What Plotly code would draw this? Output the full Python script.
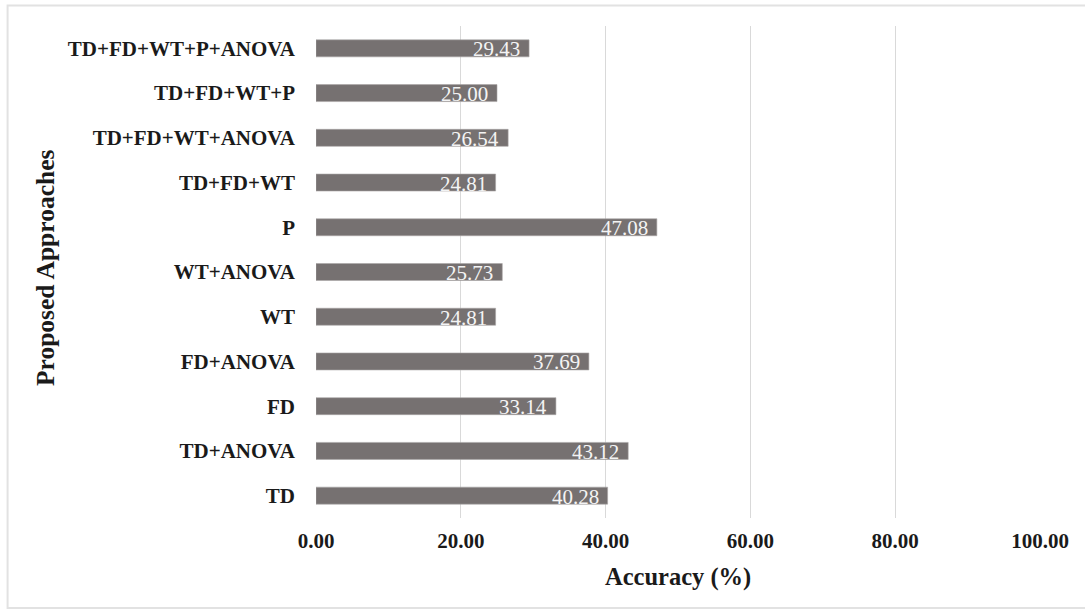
import plotly.graph_objects as go

approaches = ["TD", "TD+ANOVA", "FD", "FD+ANOVA", "WT", "WT+ANOVA", "P",
              "TD+FD+WT", "TD+FD+WT+ANOVA", "TD+FD+WT+P", "TD+FD+WT+P+ANOVA"]
accuracy = [40.28, 43.12, 33.14, 37.69, 24.81, 25.73, 47.08,
            24.81, 26.54, 25.00, 29.43]
x_ticks = [0, 20, 40, 60, 80, 100]
x_tick_text = ["0.00", "20.00", "40.00", "60.00", "80.00", "100.00"]

SERIF = "Liberation Serif, Times New Roman, serif"

fig = go.Figure(go.Bar(
    x=accuracy,
    y=approaches,
    orientation="h",
    width=0.38,
    marker=dict(color="#767171", line=dict(color="#a9a6a6", width=0.6)),
    hoverinfo="x+y",
))

# value labels placed just inside the end of each bar
value_labels = [
    dict(text=f"{v:.2f}", x=v, y=cat, xref="x", yref="y",
         xanchor="right", yanchor="middle", xshift=-7, yshift=-1,
         showarrow=False,
         font=dict(family=SERIF, size=21, color="#f4f4f4"))
    for cat, v in zip(approaches, accuracy)
]

fig.update_layout(
    width=1085, height=609,
    margin=dict(l=316, r=45, t=26, b=91),
    paper_bgcolor="white", plot_bgcolor="white",
    showlegend=False,
    xaxis=dict(
        range=[0, 100], tickvals=x_ticks, ticktext=x_tick_text,
        showgrid=True, gridcolor="#d9d9d9", gridwidth=1,
        zeroline=False, showline=False, ticks="",
        ticklabelstandoff=8,
        tickfont=dict(family=SERIF, size=21, color="#1a1a1a", weight="bold"),
        fixedrange=True,
    ),
    yaxis=dict(
        categoryorder="array", categoryarray=approaches,
        range=[-0.5, 10.5],
        showgrid=False, zeroline=False, showline=False, ticks="",
        ticklabelstandoff=20,
        tickfont=dict(family=SERIF, size=21, color="#1a1a1a", weight="bold"),
        fixedrange=True,
    ),
    annotations=value_labels + [
        dict(text="<b>Accuracy (%)</b>", xref="paper", yref="paper",
             x=0.5, y=0, yshift=-59, xanchor="center", yanchor="middle",
             showarrow=False, font=dict(family=SERIF, size=24.5, color="#1a1a1a")),
        dict(text="<b>Proposed Approaches</b>", xref="paper", yref="paper",
             x=0, xshift=-271, y=0.5, yshift=4, xanchor="center", yanchor="middle",
             textangle=-90, showarrow=False,
             font=dict(family=SERIF, size=25.5, color="#1a1a1a")),
    ],
    shapes=[
        dict(type="rect", xref="paper", yref="paper",
             x0=-0.426, x1=1.07, y0=-0.183, y1=1.0417,
             line=dict(color="#e2e2e2", width=2), fillcolor="rgba(0,0,0,0)",
             layer="below"),
    ],
)

fig.write_html("out.html")
